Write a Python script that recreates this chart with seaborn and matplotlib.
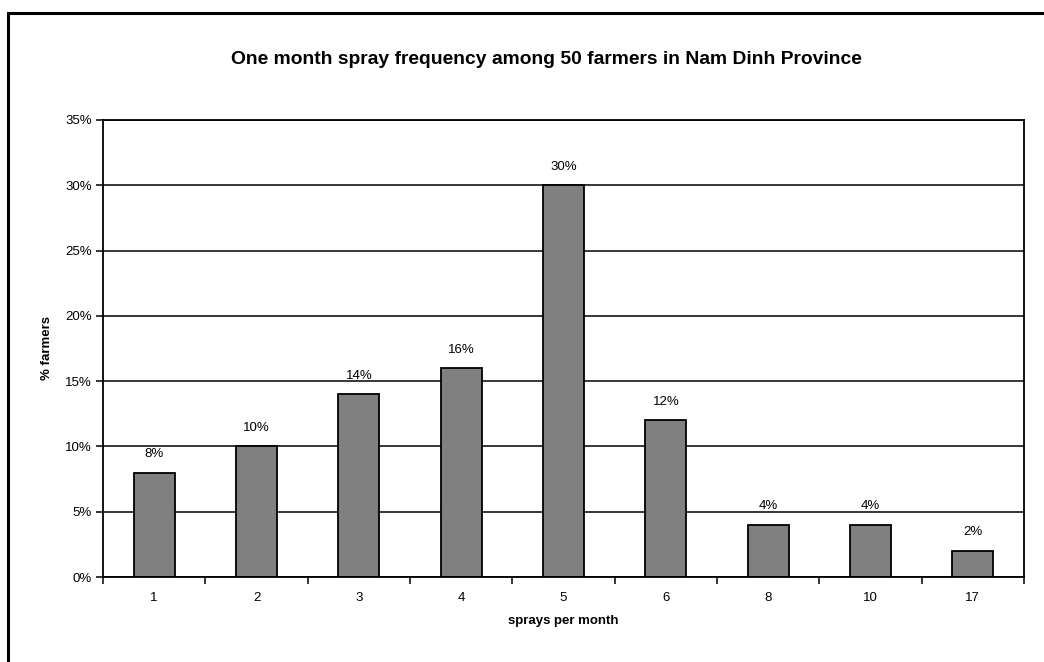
import numpy as np
import pandas as pd
import seaborn as sns
import matplotlib.pyplot as plt
from matplotlib.patches import Rectangle
from matplotlib.ticker import PercentFormatter, FixedLocator

sprays = ['1', '2', '3', '4', '5', '6', '8', '10', '17']
pct_farmers = [8, 10, 14, 16, 30, 12, 4, 4, 2]

df = pd.DataFrame({'sprays': sprays, 'pct': pct_farmers})

sns.set_style("white")
plt.rcParams['font.family'] = ['Liberation Sans', 'DejaVu Sans']
plt.rcParams['text.color'] = 'black'
plt.rcParams['axes.labelcolor'] = 'black'
plt.rcParams['xtick.color'] = 'black'
plt.rcParams['ytick.color'] = 'black'

fig = plt.figure(figsize=(10.44, 6.62), dpi=100)
ax = fig.add_axes([103 / 1044, 1 - 577 / 662, 921 / 1044, 457 / 662])

sns.barplot(data=df, x='sprays', y='pct', order=sprays, color='#808080',
            edgecolor='black', linewidth=1.3, width=0.40, saturation=1, ax=ax)

ax.set_ylim(0, 35)
ax.set_xlim(-0.5, len(sprays) - 0.5)
ax.set_yticks(np.arange(0, 36, 5))
ax.yaxis.set_major_formatter(PercentFormatter(decimals=0))
ax.grid(axis='y', color='black', linewidth=1.1)
ax.set_axisbelow(True)

# x ticks sit between categories, labels centred
ax.tick_params(axis='x', which='major', length=0, pad=11, labelsize=9.5)
ax.xaxis.set_minor_locator(FixedLocator(np.arange(-0.5, len(sprays), 1)))
ax.tick_params(axis='x', which='minor', length=5, width=1.1, direction='out',
               bottom=True)
ax.tick_params(axis='y', length=5, width=1.1, direction='out',
               left=True, labelsize=9.5, pad=3)

for s in ax.spines.values():
    s.set_color('black')
    s.set_linewidth(1.3)

for i, v in enumerate(pct_farmers):
    ax.annotate(f'{v}%', (i, v), xytext=(0, 9), textcoords='offset points',
                ha='center', va='bottom', fontsize=9.5)

ax.set_xlabel('sprays per month', fontsize=9.5, fontweight='bold', labelpad=8)
ax.set_ylabel('% farmers', fontsize=9.5, fontweight='bold', labelpad=9)

fig.text(546 / 1044, 1 - 60 / 662,
         'One month spray frequency among 50 farmers in Nam Dinh Province',
         ha='center', va='center', fontsize=13.9, fontweight='bold')

fig.patches.append(Rectangle((7.5 / 1044, -0.1), 1.2, 1 - 12.5 / 662 + 0.1,
                             transform=fig.transFigure, fill=False,
                             edgecolor='black', linewidth=2.2))

plt.savefig('out.png', dpi=100)
plt.close()
